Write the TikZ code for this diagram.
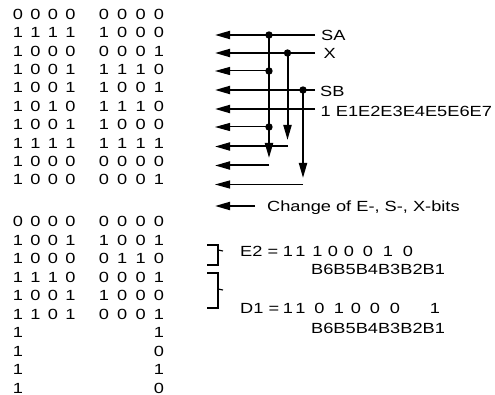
\documentclass[tikz,border=0pt]{standalone}
\usepackage{fontspec}
\setmainfont{Liberation Sans}[FakeStretch=1.24]
\usetikzlibrary{arrows.meta}
\begin{document}
\begin{tikzpicture}[x=1pt,y=-1pt,
  txt/.style={font=\fontsize{14.7}{17}\selectfont, inner sep=0pt, anchor=base, yshift=-5.25pt},
  txtw/.style={txt, anchor=base west},
  thickline/.style={line width=2pt},
  thinline/.style={line width=1pt},
  larr/.style={-{Triangle[length=15pt,width=8pt]}},
  varr/.style={-{Triangle[length=15pt,width=8pt]}},
  dot/.style={circle, fill, inner sep=0pt, minimum size=7.4pt},
  brack/.style={line width=1.1pt},
]
\useasboundingbox (0,0) rectangle (495,395);
\def\colx{{18,35.5,53,70.5,104,122.3,140.6,159}}
% block 1
\foreach \row [count=\i] in {{0,0,0,0,0,0,0,0},{1,1,1,1,1,0,0,0},{1,0,0,0,0,0,0,1},{1,0,0,1,1,1,1,0},{1,0,0,1,1,0,0,1},{1,0,1,0,1,1,1,0},{1,0,0,1,1,0,0,0},{1,1,1,1,1,1,1,1},{1,0,0,0,0,0,0,0},{1,0,0,0,0,0,0,1}} {
  \foreach \d [count=\j] in \row {
    \pgfmathsetmacro\xx{\colx[\j-1]}
    \node[txt] (a\i-\j) at (\xx,{14+18.4*(\i-1)}) {\d};
  }
}
% block 2
\foreach \row [count=\i] in {{0,0,0,0,0,0,0,0},{1,0,0,1,1,0,0,1},{1,0,0,0,0,1,1,0},{1,1,1,0,0,0,0,1},{1,0,0,1,1,0,0,0},{1,1,0,1,0,0,0,1}} {
  \foreach \d [count=\j] in \row {
    \pgfmathsetmacro\xx{\colx[\j-1]}
    \node[txt] (b\i-\j) at (\xx,{221.5+18.5*(\i-1)}) {\d};
  }
}
\foreach \r/\d [count=\i from 7] in {1/1,1/0,1/1,1/0} {
  \node[txt] (b\i-1) at (18,{221.5+18.5*(\i-1)}) {\r};
  \node[txt] (b\i-8) at (159,{221.5+18.5*(\i-1)}) {\d};
}
% horizontal arrows
\foreach \i/\y/\xe/\w in {1/35/315/thickline,2/53/315/thickline,3/71/269/thinline,4/90/315/thickline,5/109/315/thickline,6/127/269/thinline,7/146.5/288/thickline,8/165.5/269/thickline,9/184.5/303/thinline} {
  \coordinate (s\i) at (\xe,\y);
  \coordinate (t\i) at (215,\y);
  \draw[\w,larr] (s\i) -- (t\i);
}
% vertical arrows
\node[dot] (d1) at (269,35) {};
\node[dot] (d2) at (287.5,53) {};
\node[dot] (d3) at (269,71) {};
\node[dot] (d4) at (303,90) {};
\node[dot] (d5) at (269,127) {};
\coordinate (v1) at (269,158);
\coordinate (v2) at (287.5,140);
\coordinate (v3) at (303,178);
\draw[thickline,varr] (d1.center) -- (v1);
\draw[thickline,varr] (d2.center) -- (v2);
\draw[thickline,varr] (d4.center) -- (v3);
% labels
\node[txtw] (sa) at (321,35) {SA};
\node[txtw] (xl) at (323.5,53) {X};
\node[txtw] (sb) at (320,91) {SB};
\node[txtw] (ee) at (320.5,111) {1 E1E2E3E4E5E6E7};
% change arrow
\coordinate (cs) at (255,206);
\coordinate (ct) at (215,206);
\draw[thickline,larr] (cs) -- (ct);
\node[txtw] (chg) at (267,206) {Change of E-, S-, X-bits};
% brackets
\draw[brack] (207,245) -- (218,245) -- (218,265) -- (207,265);
\draw[brack] (218,250) -- (223,251);
\draw[brack] (207,273) -- (218,273) -- (218,308) -- (207,308);
\draw[brack] (218,289) -- (223,290);
% E2 and D1
\node[txtw] (e2) at (240,251) {E2 =};
\foreach \d/\x [count=\k] in {1/288,1/300.5,1/317.5,0/333,0/349,0/368,1/388,0/408} {
  \node[txt] (e\k) at (\x,251) {\d};
}
\node[txtw] (bb1) at (311,269) {B6B5B4B3B2B1};
\node[txtw] (d1l) at (240,308) {D1 =};
\foreach \d/\x [count=\k] in {1/288,1/300.5,0/319.5,1/339,0/356,0/375,0/395,1/435} {
  \node[txt] (f\k) at (\x,308) {\d};
}
\node[txtw] (bb2) at (311,328) {B6B5B4B3B2B1};
\end{tikzpicture}
\end{document}
